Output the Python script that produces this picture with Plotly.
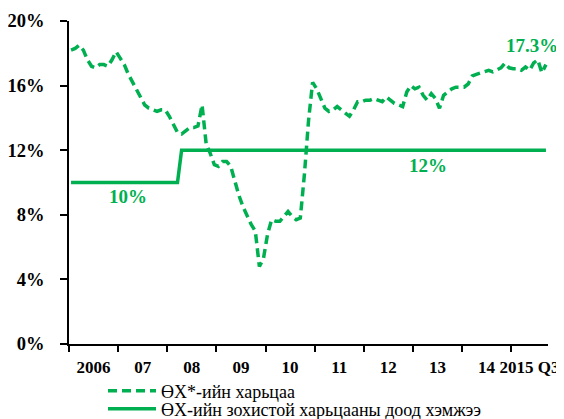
import numpy as np
import pandas as pd
import plotly.graph_objects as go

GREEN = "#00B050"
FONT = "Liberation Serif, Times New Roman, serif"

# Monthly data, Jan 2006 .. Sep 2015
months = pd.period_range("2006-01", "2015-09", freq="M")

fx_ratio = [
    18.2, 18.3, 18.5, 18.2, 17.6, 17.2, 17.1, 17.3, 17.3, 17.2, 17.6, 18.1,   # 2006
    17.7, 17.3, 16.7, 16.2, 15.7, 15.2, 14.8, 14.6, 14.5, 14.4, 14.5, 14.5,   # 2007
    14.1, 13.6, 13.1, 13.0, 13.2, 13.4, 13.4, 13.5, 14.8, 12.4, 11.8, 11.1,   # 2008
    11.0, 11.3, 11.3, 11.0, 10.1, 9.2, 8.5, 7.9, 7.4, 7.0, 4.8, 5.3,          # 2009
    6.8, 7.7, 7.6, 7.6, 7.9, 8.2, 7.9, 7.7, 7.8, 10.5, 13.8, 16.2,            # 2010
    15.8, 15.2, 14.6, 14.4, 14.5, 14.7, 14.5, 14.3, 14.1, 14.5, 15.0, 15.0,   # 2011
    15.1, 15.1, 15.2, 15.1, 15.0, 15.3, 15.1, 14.9, 14.8, 14.7, 15.6, 16.0,   # 2012
    15.8, 15.9, 15.4, 15.1, 15.5, 15.2, 14.6, 15.4, 15.6, 15.8, 15.9, 15.9,   # 2013
    15.9, 16.1, 16.6, 16.7, 16.8, 16.9, 16.95, 16.85, 17.0, 17.1, 17.4, 17.1, # 2014
    17.05, 17.05, 16.95, 17.15, 16.95, 17.4, 17.6, 16.8, 17.3,                # 2015 Q1-Q3
]

min_ratio = [10.0] * 27 + [12.0] * 90

year_labels = ["2006", "07", "08", "09", "10", "11", "12", "13", "14", "2015 Q3"]
y_ticks = [0, 4, 8, 12, 16, 20]
y_labels = [f"{v}%" for v in y_ticks]

series_names = ["ӨХ*-ийн харьцаа", "ӨХ-ийн зохистой харьцааны доод хэмжээ"]
value_labels = ["10%", "12%", "17.3%"]

# ---- positions derived from the month index ----
n = len(months)
x = np.arange(n) + 0.5
year_starts = [i for i, m in enumerate(months) if m.month == 1]
label_pos = []
for k, s in enumerate(year_starts):
    e = year_starts[k + 1] if k + 1 < len(year_starts) else n
    label_pos.append((s + e) / 2)

fig = go.Figure()
fig.add_trace(go.Scatter(
    x=x, y=fx_ratio, mode="lines", name=series_names[0],
    line=dict(color=GREEN, width=3.5, dash="9px,5px"), legend="legend",
))
fig.add_trace(go.Scatter(
    x=x, y=min_ratio, mode="lines", name=series_names[1],
    line=dict(color=GREEN, width=3.5), legend="legend2",
))

ann_font = dict(family=FONT, size=19, color=GREEN, weight="bold")
ann_pos = [(14.3, 9.16), (87.8, 11.08), (113.0, 18.5)]
for txt, (ax_, ay_) in zip(value_labels, ann_pos):
    fig.add_annotation(x=ax_, y=ay_, text=txt, showarrow=False,
                       xref="x", yref="y", font=ann_font)

W, H = 556, 411  # page body adds an 8px margin
tick_font = dict(family=FONT, size=18.5, color="black", weight="bold")
xtick_font = dict(family=FONT, size=17, color="black", weight="bold")
leg_font = dict(family=FONT, size=18, color="black")

fig.update_layout(
    width=W, height=H,
    margin=dict(l=61, r=16, t=13, b=75, autoexpand=False),
    paper_bgcolor="white", plot_bgcolor="white",
    showlegend=True,
    legend=dict(
        xref="container", yref="container", x=95 / W, y=1 - 383 / H,
        xanchor="left", yanchor="middle", itemwidth=48, font=leg_font,
        bgcolor="rgba(0,0,0,0)", borderwidth=0,
    ),
    legend2=dict(
        xref="container", yref="container", x=95 / W, y=1 - 401 / H,
        xanchor="left", yanchor="middle", itemwidth=48, font=leg_font,
        bgcolor="rgba(0,0,0,0)", borderwidth=0,
    ),
    xaxis=dict(
        range=[0, n], showgrid=False, zeroline=False,
        showline=True, linecolor="black", linewidth=1.5,
        tickmode="array", tickvals=label_pos, ticktext=year_labels,
        ticks="", tickfont=xtick_font, ticklabelstandoff=7, tickangle=0,
        minor=dict(tickmode="array", tickvals=year_starts, ticks="outside",
                   ticklen=6, tickwidth=1.5, tickcolor="black", showgrid=False),
    ),
    yaxis=dict(
        range=[0, 20], showgrid=False, zeroline=False,
        showline=True, linecolor="black", linewidth=1.5,
        tickmode="array", tickvals=y_ticks, ticktext=y_labels,
        ticks="outside", ticklen=7, tickwidth=1.5, tickcolor="black",
        tickfont=tick_font, ticklabelstandoff=12,
    ),
)

fig.write_html("out.html")
